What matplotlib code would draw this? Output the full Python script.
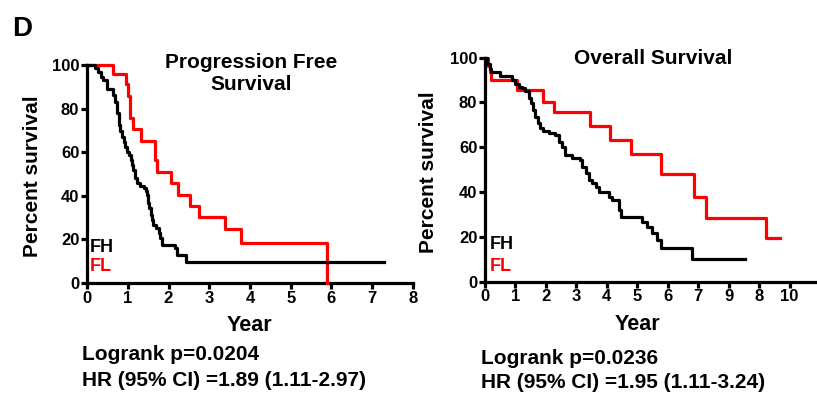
"""Kaplan-Meier panel D: PFS and OS, FH vs FL."""
import matplotlib.pyplot as plt

plt.rcParams["font.family"] = ["Liberation Sans", "DejaVu Sans"]
plt.rcParams["font.weight"] = "bold"

RED, BLACK = "#ff0000", "#000000"

# PFS - FH (black)
PFS_FH_T = [0, 0.20, 0.28, 0.34, 0.40, 0.49, 0.65, 0.69, 0.73, 0.78, 0.82, 0.86, 0.90,
            0.94, 0.98, 1.04, 1.08, 1.10, 1.14, 1.17, 1.22, 1.29, 1.39, 1.45, 1.47,
            1.49, 1.53, 1.57, 1.59, 1.63, 1.70, 1.76, 1.80, 1.84, 2.16, 2.20, 2.43, 7.28]
PFS_FH_S = [100, 98.8, 96.6, 94.7, 93.1, 89.0, 86.3, 83.2, 77.9, 72.5, 69.8, 67.2, 64.6,
            62.6, 60.3, 58.8, 56.5, 54.2, 51.9, 48.1, 45.8, 44.3, 43.5, 42.0, 40.5,
            36.6, 34.4, 31.3, 29.0, 26.7, 25.2, 22.9, 20.6, 17.6, 16.0, 13.0, 9.5, 9.5]
# PFS - FL (red)
PFS_FL_T = [0, 0.65, 0.955, 1.00, 1.06, 1.14, 1.33, 1.68, 1.73, 2.07, 2.24, 2.53, 2.75,
            3.39, 3.78, 5.88]
PFS_FL_S = [100, 95.7, 91.1, 86.0, 75.6, 70.7, 65.2, 56.5, 50.7, 45.8, 40.5, 35.1, 30.2,
            24.9, 18.3, 0]

# OS - FH (black)
OS_FH_T = [0, 0.05, 0.16, 0.20, 0.49, 0.88, 0.99, 1.10, 1.21, 1.32, 1.43, 1.52, 1.59,
           1.65, 1.73, 1.81, 1.92, 2.09, 2.31, 2.42, 2.53, 2.62, 2.86, 3.13, 3.19, 3.30,
           3.41, 3.52, 3.63, 3.74, 4.07, 4.18, 4.40, 4.45, 5.16, 5.33, 5.49, 5.66, 5.77,
           6.81, 8.52]
OS_FH_S = [100, 97.0, 95.0, 93.8, 92.0, 90.0, 88.1, 87.1, 86.3, 85.1, 81.8, 79.6, 76.6,
           73.7, 70.7, 68.5, 67.3, 66.2, 65.5, 62.5, 60.3, 56.5, 55.1, 54.3, 51.3, 48.4,
           45.4, 43.9, 42.4, 40.2, 37.9, 36.5, 32.0, 29.0, 26.8, 24.6, 21.6, 18.6, 14.9,
           10.1, 10.1]
# OS - FL (red)
OS_FL_T = [0, 0.11, 0.16, 0.20, 1.04, 1.92, 2.25, 3.46, 4.12, 4.78, 5.77, 6.87, 7.25,
           9.21, 9.69]
OS_FL_S = [100, 96.5, 93.5, 90.0, 85.6, 80.4, 75.9, 69.6, 63.2, 57.0, 47.9, 37.9, 28.6,
           19.3, 19.3]

PFS_TICKS = list(range(0, 9))
OS_TICKS = list(range(0, 11))
OS_TICKLABELS = ["0", "1", "2", "3", "4", "5", "6", "7", "9", "8", "10"]

fig = plt.figure(figsize=(8.17, 3.94), dpi=100)
ax1 = fig.add_axes([87/817, 1 - 283/394, 326/817, 218/394])
ax2 = fig.add_axes([485/817, 1 - 281.7/394, 332/817, 224/394])


def style(ax, xmax, ticks, labels, xlab_x, ylab_x):
    ax.set_xlim(0, xmax)
    ax.set_ylim(0, 100)
    ax.set_xticks(ticks)
    ax.set_xticklabels(labels)
    ax.set_yticks([0, 20, 40, 60, 80, 100])
    for s in ("top", "right"):
        ax.spines[s].set_visible(False)
    for s in ("left", "bottom"):
        ax.spines[s].set_linewidth(2.3)
    ax.tick_params(direction="out", length=4, width=2.3, labelsize=12, pad=1.5)
    for lab in ax.get_xticklabels() + ax.get_yticklabels():
        lab.set_fontweight("bold")
    ax.set_xlabel("Year", fontsize=15.5, fontweight="bold")
    ax.set_ylabel("Percent survival", fontsize=15, fontweight="bold")
    ax.yaxis.set_label_coords(ylab_x, 0.49)
    ax.xaxis.set_label_coords(xlab_x, -0.145)


for ax, curves in ((ax1, [(PFS_FL_T, PFS_FL_S, RED), (PFS_FH_T, PFS_FH_S, BLACK)]),
                   (ax2, [(OS_FL_T, OS_FL_S, RED), (OS_FH_T, OS_FH_S, BLACK)])):
    for t, s, c in curves:
        ax.step(t, s, where="post", color=c, lw=2.3, clip_on=False, zorder=3)

style(ax1, 8, PFS_TICKS, [str(t) for t in PFS_TICKS], 0.497, -0.138)
style(ax2, 10.9, OS_TICKS, OS_TICKLABELS, 0.458, -0.143)

ax1.text(0.06, 16.5, "FH", color=BLACK, fontsize=13, fontweight="bold", va="center")
ax1.text(0.06, 7.5, "FL", color=RED, fontsize=13, fontweight="bold", va="center")
ax2.text(0.15, 16.5, "FH", color=BLACK, fontsize=13, fontweight="bold", va="center")
ax2.text(0.15, 7, "FL", color=RED, fontsize=13, fontweight="bold", va="center")

fig.text(12/817, 1 - 29/394, "D", fontsize=20, fontweight="bold", va="center")
fig.text(251/817, 1 - 73/394, "Progression Free\nSurvival", fontsize=15,
         fontweight="bold", ha="center", va="center", linespacing=1.2)
fig.text(653/817, 1 - 59/394, "Overall Survival", fontsize=15,
         fontweight="bold", ha="center", va="center")

fig.text(82/817, 1 - 354/394, "Logrank p=0.0204", fontsize=15, fontweight="bold", va="center")
fig.text(82/817, 1 - 381/394, "HR (95% CI) =1.89 (1.11-2.97)", fontsize=15,
         fontweight="bold", va="center")
fig.text(481/817, 1 - 358/394, "Logrank p=0.0236", fontsize=15, fontweight="bold", va="center")
fig.text(481/817, 1 - 383/394, "HR (95% CI) =1.95 (1.11-3.24)", fontsize=15,
         fontweight="bold", va="center")

fig.savefig("out.png", dpi=100)
